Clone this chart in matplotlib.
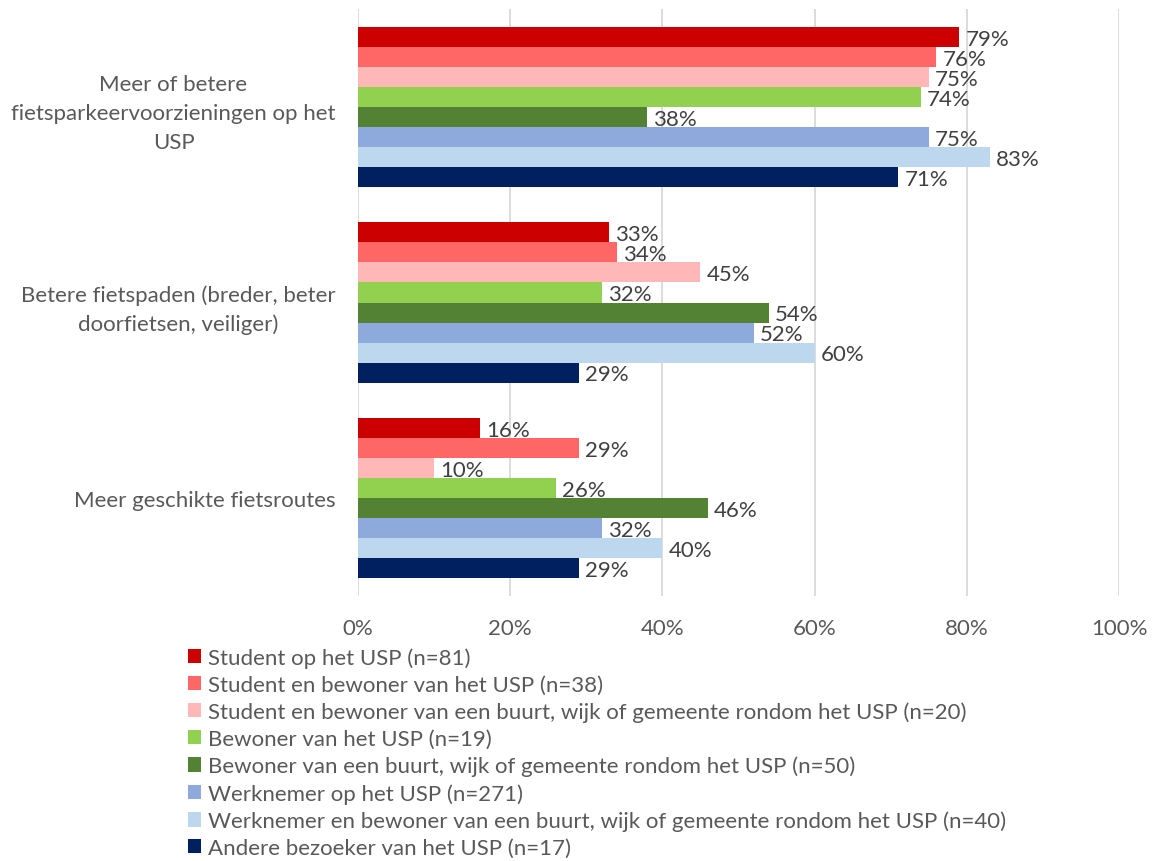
import numpy as np
import matplotlib.pyplot as plt
from matplotlib.patches import Patch

plt.rcParams['font.family'] = ['Lato', 'DejaVu Sans']

categories = [
    "Meer of betere\nfietsparkeervoorzieningen op het\nUSP",
    "Betere fietspaden (breder, beter\ndoorfietsen, veiliger)",
    "Meer geschikte fietsroutes",
]

series_names = [
    "Student op het USP (n=81)",
    "Student en bewoner van het USP (n=38)",
    "Student en bewoner van een buurt, wijk of gemeente rondom het USP (n=20)",
    "Bewoner van het USP (n=19)",
    "Bewoner van een buurt, wijk of gemeente rondom het USP (n=50)",
    "Werknemer op het USP (n=271)",
    "Werknemer en bewoner van een buurt, wijk of gemeente rondom het USP (n=40)",
    "Andere bezoeker van het USP (n=17)",
]

colors = ["#CC0000", "#FF6666", "#FFB7B7", "#92D050",
          "#548235", "#8EA9DB", "#BDD7EE", "#002060"]

# percentages per series, one value per category
values = [
    [79, 33, 16],
    [76, 34, 29],
    [75, 45, 10],
    [74, 32, 26],
    [38, 54, 46],
    [75, 52, 32],
    [83, 60, 40],
    [71, 29, 29],
]

TEXT = "#595959"
LABEL = "#404040"
FS = 16

fig = plt.figure(figsize=(11.57, 8.62), dpi=100)
ax = fig.add_axes([358 / 1157, 1 - 597 / 862, 761 / 1157, 587 / 862])

n = len(series_names)
bar_h = 0.818 / n
y0 = np.arange(len(categories))

for i, (name, vals, c) in enumerate(zip(series_names, values, colors)):
    ypos = y0 - 0.409 + bar_h * (i + 0.5)
    ax.barh(ypos, vals, height=bar_h, color=c, label=name, zorder=3)
    for y, v in zip(ypos, vals):
        ax.text(v + 0.8, y + 0.01, f"{v}%", va="center", ha="left",
                fontsize=FS, color=LABEL, zorder=4)

ax.set_ylim(len(categories) - 0.5, -0.5)
ax.set_xlim(0, 100)
ax.set_xticks(np.arange(0, 101, 20))
ax.set_xticklabels([f"{t}%" for t in range(0, 101, 20)])
ax.set_yticks(y0)
ax.set_yticklabels(categories, multialignment="center", linespacing=1.55)
ax.tick_params(axis="x", length=0, pad=16, labelsize=FS, labelcolor=TEXT)
ax.tick_params(axis="y", length=0, pad=16, labelsize=FS, labelcolor=TEXT)
ax.grid(axis="x", color="#D9D9D9", linewidth=1.3, zorder=0)
for s in ax.spines.values():
    s.set_visible(False)

handles = [Patch(facecolor=c, edgecolor="none") for c in colors]
fig.legend(handles, series_names, loc="upper left",
           bbox_to_anchor=(188 / 1157, 1 - 648 / 862), frameon=False,
           fontsize=FS, labelcolor=TEXT, handlelength=0.6, handleheight=0.6,
           handletextpad=0.3, labelspacing=0.31, borderaxespad=0, borderpad=0)

fig.savefig("out.png", dpi=100)
